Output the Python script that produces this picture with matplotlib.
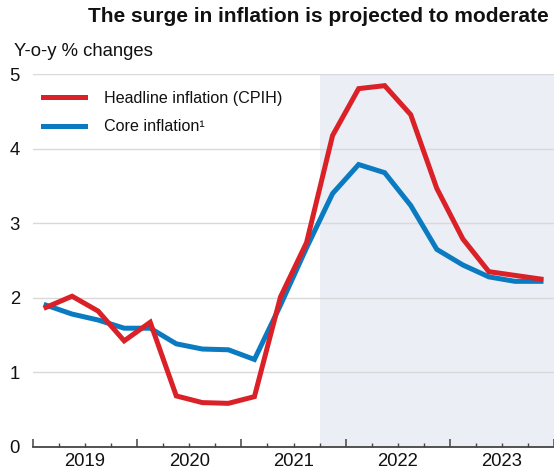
import matplotlib
matplotlib.use("Agg")
import matplotlib.pyplot as plt
from matplotlib.lines import Line2D

plt.rcParams['font.family'] = ['Liberation Sans', 'DejaVu Sans']

quarters = ['2019Q1', '2019Q2', '2019Q3', '2019Q4',
            '2020Q1', '2020Q2', '2020Q3', '2020Q4',
            '2021Q1', '2021Q2', '2021Q3', '2021Q4',
            '2022Q1', '2022Q2', '2022Q3', '2022Q4',
            '2023Q1', '2023Q2', '2023Q3', '2023Q4']
headline = [1.87, 2.02, 1.82, 1.42, 1.67, 0.68, 0.59, 0.58, 0.67, 2.01,
            2.74, 4.18, 4.81, 4.85, 4.46, 3.47, 2.79, 2.35, 2.30, 2.25]
core = [1.90, 1.78, 1.70, 1.59, 1.59, 1.38, 1.31, 1.30, 1.17, 1.90,
        2.67, 3.40, 3.79, 3.68, 3.24, 2.65, 2.44, 2.28, 2.22, 2.22]
years = [2019, 2020, 2021, 2022, 2023]
yticks = [0, 1, 2, 3, 4, 5]
projection_start = 2021.75
series_names = ['Headline inflation (CPIH)', 'Core inflation¹']

RED = '#DA2128'
BLUE = '#0A7BC0'
W, H = 554, 470

def qpos(q):
    return int(q[:4]) + (int(q[-1]) - 0.5) / 4.0

x = [qpos(q) for q in quarters]

fig = plt.figure(figsize=(W / 100, H / 100), dpi=100)
ax = fig.add_axes([33 / W, 23.5 / H, 1 - 33 / W, (446.5 - 74.5) / H])

xmin, xmax = years[0], years[-1] + 1
ax.set_xlim(xmin, xmax)
ax.set_ylim(0, 5)

ax.axvspan(projection_start, xmax, color='#EBEEF5', zorder=0, lw=0)

for yv in yticks[1:]:
    ax.axhline(yv, color='#D9D9D9', lw=1.0, zorder=1)

ax.plot(x, core, color=BLUE, lw=3.6, zorder=3, solid_joinstyle='miter')
ax.plot(x, headline, color=RED, lw=3.6, zorder=4, solid_joinstyle='miter')

for s in ['left', 'right', 'top']:
    ax.spines[s].set_visible(False)
ax.spines['bottom'].set_color('#444444')
ax.spines['bottom'].set_linewidth(1.3)
ax.spines['bottom'].set_zorder(5)

# x ticks
major = list(range(xmin, xmax + 1))
ax.set_xticks(major)
ax.set_xticklabels([''] * len(major))
minor = [yv + k / 4.0 for yv in range(xmin, xmax) for k in (1, 2, 3)]
minor_labels = [str(int(m)) if abs(m - int(m) - 0.5) < 1e-9 else '' for m in minor]
ax.set_xticks(minor, minor=True)
ax.set_xticklabels(minor_labels, minor=True)
ax.tick_params(axis='x', which='major', direction='in', length=6, width=1.1,
               color='#444444')
ax.tick_params(axis='x', which='minor', direction='in', length=2.8, width=1.0,
               color='#444444', labelsize=13.3, pad=5, labelcolor='#111111')

ax.set_yticks(yticks)
ax.set_yticklabels([str(v) for v in yticks])
ax.tick_params(axis='y', length=0, pad=9.5, labelsize=13.3, labelcolor='#111111')

fig.text(318 / W, 1 - 17 / H, 'The surge in inflation is projected to moderate',
         ha='center', va='center', fontsize=15, fontweight='bold', color='#111111')
fig.text(14 / W, 1 - 52 / H, 'Y-o-y % changes', ha='left', va='center',
         fontsize=13.3, color='#111111')

handles = [Line2D([], [], color=RED, lw=3.6), Line2D([], [], color=BLUE, lw=3.6)]
leg = ax.legend(handles, series_names, loc='upper left',
                bbox_to_anchor=(43 / W, 1 - 91 / H), bbox_transform=fig.transFigure,
                frameon=False, fontsize=11.6, handlelength=2.6, handletextpad=1.2,
                labelspacing=0.82, borderaxespad=0.0, borderpad=0.0)
for t in leg.get_texts():
    t.set_color('#111111')

fig.savefig('out.png', dpi=100)
